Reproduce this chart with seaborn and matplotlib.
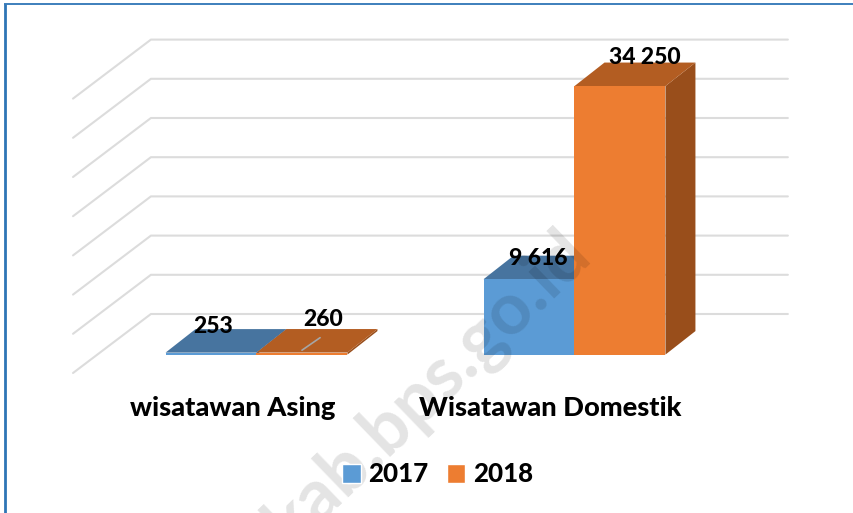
"""Wisatawan 2017-2018: 3D-look grouped bars drawn on a flat seaborn barplot."""

import matplotlib
matplotlib.use("Agg")
import matplotlib.pyplot as plt
import pandas as pd
import seaborn as sns
from matplotlib.lines import Line2D
from matplotlib.patches import Patch
from matplotlib.transforms import ScaledTranslation

categories = ["wisatawan Asing", "Wisatawan Domestik"]
years = ["2017", "2018"]
values_2017 = [253, 9616]
values_2018 = [260, 34250]
labels_2017 = ["253", "9 616"]
labels_2018 = ["260", "34 250"]
grid_ticks = [0, 5000, 10000, 15000, 20000, 25000, 30000, 35000]

W, H = 854, 513
FRONT = {"2017": "#5B9BD5", "2018": "#ED7D31"}
TOP = {"2017": "#47749F", "2018": "#B35D22"}
SIDE = {"2017": "#3F6A94", "2018": "#994E1B"}
GRID = "#DCDCDC"
FRAME = "#2E75B6"
FONT = "Lato"
WEIGHT = 900

# 3D offsets in data units
DEPTH_X, DEPTH_Y = 0.0943, 3000
WALL_BACK_X, WALL_FRONT_X, WALL_RIGHT_X = -0.332, -0.577, 1.671
WALL_BACK_Y, WALL_FRONT_Y = 5180, -2347

# label nudges from the top centre of each bar, in pixels
nudge_2017 = [(2.5, 26), (9, 20.5)]
nudge_2018 = [(21, 33), (25, 29)]

sns.set_theme(style="white")
plt.rcParams["font.family"] = FONT

df = pd.DataFrame({
    "kategori": categories * 2,
    "tahun": [years[0]] * 2 + [years[1]] * 2,
    "nilai": values_2017 + values_2018,
})

fig = plt.figure(figsize=(W / 100, H / 100), dpi=100)
ax = fig.add_axes([97.5 / W, 1 - 354.6 / H, 636 / W, 274.4 / H])
sns.barplot(data=df, x="kategori", y="nilai", hue="tahun", order=categories,
            hue_order=years, palette=FRONT, width=0.572, gap=0, saturation=1,
            dodge=True, errorbar=None, legend=False, linewidth=0, ax=ax, zorder=3)
ax.set_xlim(-0.5, 1.5)
ax.set_ylim(0, 35000)
ax.set(xlabel="", ylabel="", yticks=[])
ax.patch.set_alpha(0)
sns.despine(ax=ax, left=True, bottom=True)
ax.tick_params(axis="x", length=0, pad=30)
shift = ScaledTranslation(-24 / 100, 0, fig.dpi_scale_trans)
for t in ax.get_xticklabels():
    t.set_fontsize(19.6)
    t.set_fontweight(WEIGHT)
    t.set_color("black")
    t.set_transform(t.get_transform() + shift)

# back wall and side wall lines
for v in grid_ticks:
    ax.plot([WALL_FRONT_X, WALL_BACK_X, WALL_RIGHT_X],
            [v + WALL_FRONT_Y, v + WALL_BACK_Y, v + WALL_BACK_Y],
            color=GRID, lw=1.5, clip_on=False, zorder=1)

# top and side faces, taken from the bars seaborn drew
for year, cont in zip(years, ax.containers):
    for bar in cont:
        x0, x1, h = bar.get_x(), bar.get_x() + bar.get_width(), bar.get_height()
        ax.fill([x0, x1, x1 + DEPTH_X, x0 + DEPTH_X],
                [h, h, h + DEPTH_Y, h + DEPTH_Y],
                color=TOP[year], lw=0, clip_on=False, zorder=2.8)
        ax.fill([x1, x1 + DEPTH_X, x1 + DEPTH_X, x1],
                [0, DEPTH_Y, h + DEPTH_Y, h],
                color=SIDE[year], lw=0, clip_on=False, zorder=2.5)

# value labels sit on the top face
for cont, labs, nudges in zip(ax.containers, [labels_2017, labels_2018], [nudge_2017, nudge_2018]):
    for bar, lab, nudge in zip(cont, labs, nudges):
        cx = bar.get_x() + bar.get_width() / 2
        ax.annotate(lab, (cx, bar.get_height()), xytext=nudge,
                    textcoords="offset pixels", ha="center", va="center",
                    fontsize=16.5, fontweight=WEIGHT, color="black",
                    annotation_clip=False, zorder=8)

# small leader line under the 260 label
bar_260 = ax.containers[1][0]
lx = bar_260.get_x() + bar_260.get_width() / 2
ax.add_line(Line2D([lx, lx + 0.057], [bar_260.get_height() + 300, bar_260.get_height() + 1900],
                   color="#A6A6A6", lw=1.2, zorder=5))

handles = [Patch(facecolor=FRONT[y], label=y) for y in years]
leg = fig.legend(handles=handles, loc="center", bbox_to_anchor=(437.5 / W, 1 - 474.5 / H), ncol=2,
                 frameon=False, prop={"family": FONT, "size": 18.6, "weight": WEIGHT},
                 handlelength=0.72, handleheight=0.72, handletextpad=0.28, columnspacing=0.72)
for t in leg.get_texts():
    t.set_color("black")

# watermark over the bars
fig.text(428 / W, 1 - 388 / H, "kab.bps.go.id", rotation=44, rotation_mode="anchor",
         ha="center", va="center", fontsize=52, fontweight="bold", color="black", alpha=0.11,
         zorder=5)

# page frame: only the left and top rules show
fig.add_artist(Line2D([5.2 / W, 5.2 / W], [0, 1 - 3.5 / H], transform=fig.transFigure,
                      color=FRAME, lw=2, solid_capstyle="butt"))
fig.add_artist(Line2D([4 / W, 1], [1 - 4 / H, 1 - 4 / H], transform=fig.transFigure,
                      color=FRAME, lw=1.3, solid_capstyle="butt"))

fig.savefig("out.png", dpi=100)
